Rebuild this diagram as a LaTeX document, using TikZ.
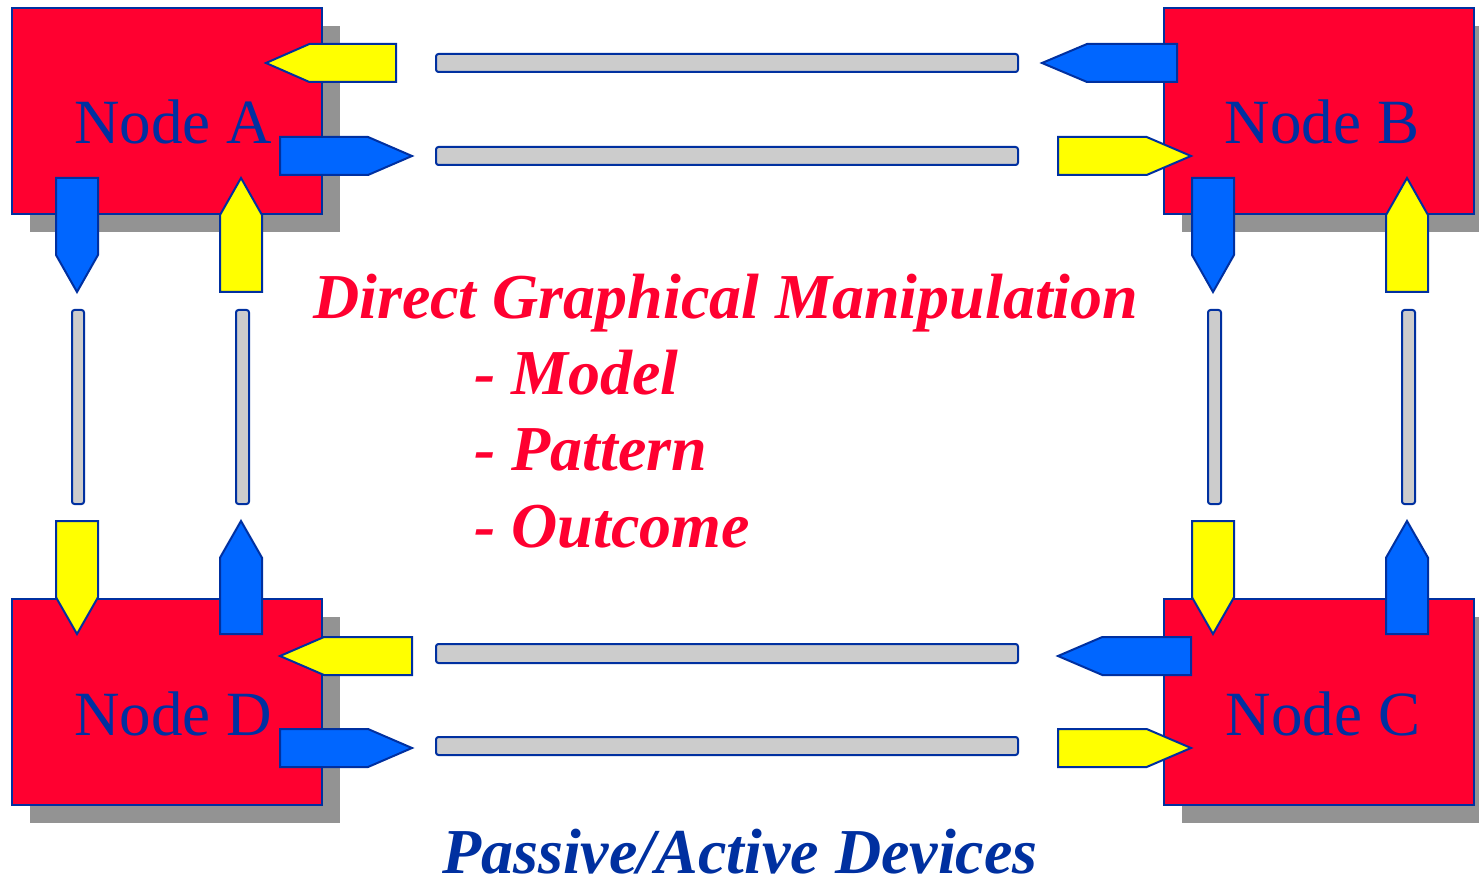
\documentclass[tikz,border=0pt]{standalone}
\usepackage{fontspec}
\setmainfont{Liberation Serif}
\usetikzlibrary{shadows}

\definecolor{boxred}{HTML}{FF0030}
\definecolor{linkblue}{HTML}{0066FF}
\definecolor{flagyellow}{HTML}{FFFF00}
\definecolor{edge}{HTML}{0030A0}
\definecolor{bargrey}{HTML}{CCCCCC}
\definecolor{shadowgrey}{HTML}{939393}

\tikzset{
  box/.style={draw=edge, line width=2pt, fill=boxred, minimum width=310pt,
    minimum height=206pt, inner sep=0pt,
    general shadow={fill=shadowgrey, shadow xshift=18pt, shadow yshift=-18pt}},
  boxlabel/.style={text=edge, font=\fontsize{63}{70}\selectfont, inner sep=0pt, anchor=base},
  title/.style={text=boxred, font=\fontsize{64}{72}\selectfont\bfseries\itshape,
    inner sep=0pt, anchor=base west},
  footer/.style={text=edge, font=\fontsize{64}{72}\selectfont\bfseries\itshape,
    inner sep=0pt, anchor=base west},
  flag/.style={draw=edge, line width=2pt, line join=miter},
  bar/.style={draw=edge, line width=2pt, fill=bargrey, rounded corners=2.5pt},
}

% horizontal tag arrow: colour, tail x, tip x, middle y
\newcommand\hflag[4]{%
  \pgfmathsetmacro\flagsh{#2+(#3-#2)*2/3}%
  \draw[flag, fill=#1] (#2,#4-19) -- (\flagsh,#4-19) -- (#3,#4)
     -- (\flagsh,#4+19) -- (#2,#4+19) -- cycle;}
% vertical tag arrow: colour, middle x, tail y, tip y
\newcommand\vflag[4]{%
  \pgfmathsetmacro\flagsh{#3+(#4-#3)*0.675}%
  \draw[flag, fill=#1] (#2-21,#3) -- (#2-21,\flagsh) -- (#2,#4)
     -- (#2+21,\flagsh) -- (#2+21,#3) -- cycle;}

\begin{document}
\begin{tikzpicture}[x=1pt, y=-1pt]
\useasboundingbox (0,0) rectangle (1479,882);

% the four nodes
\node[box] (A) at (167,111) {};
\node[box] (B) at (1318.5,111) {};
\node[box] (D) at (167,701.5) {};
\node[box] (C) at (1318.5,701.5) {};

\node[boxlabel] (lA) at (173,144) {Node A};
\node[boxlabel] (lB) at (1322,144) {Node B};
\node[boxlabel] (lD) at (173,735) {Node D};
\node[boxlabel] (lC) at (1323,735) {Node C};

% grey link bars
\draw[bar] (436,54) rectangle (1018,72);
\draw[bar] (436,147) rectangle (1018,165);
\draw[bar] (436,644) rectangle (1018,663);
\draw[bar] (436,737) rectangle (1018,755);
\draw[bar] (72,310) rectangle (84,504);
\draw[bar] (236,310) rectangle (249,504);
\draw[bar] (1208,310) rectangle (1221,504);
\draw[bar] (1402,310) rectangle (1415,504);

% horizontal tags
\hflag{flagyellow}{396}{266}{63}
\hflag{linkblue}{280}{412}{156}
\hflag{linkblue}{1177}{1042}{63}
\hflag{flagyellow}{1058}{1191}{156}
\hflag{flagyellow}{412}{280}{656}
\hflag{linkblue}{280}{412}{748}
\hflag{linkblue}{1191}{1058}{656}
\hflag{flagyellow}{1058}{1191}{748}

% vertical tags
\vflag{linkblue}{77}{178}{292}
\vflag{flagyellow}{241}{292}{178}
\vflag{linkblue}{1213}{178}{292}
\vflag{flagyellow}{1407}{292}{178}
\vflag{flagyellow}{77}{521}{634}
\vflag{linkblue}{241}{634}{521}
\vflag{flagyellow}{1213}{521}{634}
\vflag{linkblue}{1407}{634}{521}

% centre text
\node[title] (t0) at (313,318) {Direct Graphical Manipulation};
\node[title] (t1) at (474,394) {- Model};
\node[title] (t2) at (474,470) {- Pattern};
\node[title] (t3) at (474,547) {- Outcome};

\node[footer] (ft) at (442,873) {Passive/Active Devices};
\end{tikzpicture}
\end{document}
